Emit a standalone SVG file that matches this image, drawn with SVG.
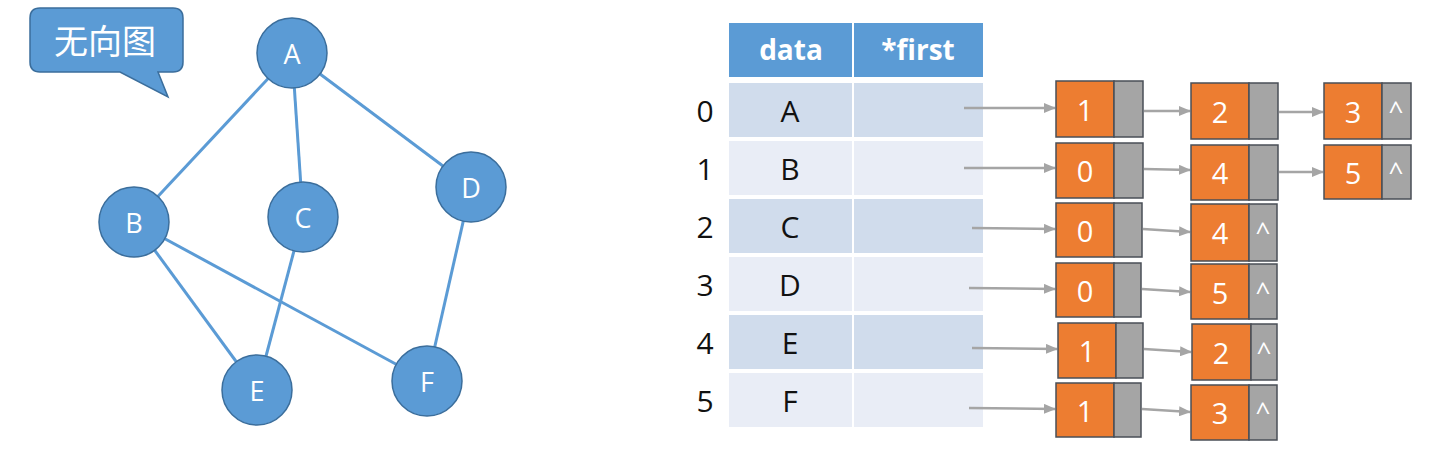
<svg xmlns="http://www.w3.org/2000/svg" width="1450" height="468" viewBox="0 0 1450 468">
<defs>
<style>
.edge{stroke:#5b9bd5;stroke-width:3;fill:none}
.gnode{fill:#5b9bd5;stroke:#3b6e9c;stroke-width:1.5}
.glabel{font-family:"Open Sans","Liberation Sans",sans-serif;font-size:27px;fill:#fff;text-anchor:middle;dominant-baseline:central}
.hdr{fill:#5b9bd5}
.rowA{fill:#d0dcec}
.rowB{fill:#e9edf6}
.htext{font-family:"Open Sans","Liberation Sans",sans-serif;font-size:28px;font-weight:bold;fill:#fff;text-anchor:middle;dominant-baseline:central}
.ttext{font-family:"Open Sans","Liberation Sans",sans-serif;font-size:30px;fill:#111;text-anchor:middle;dominant-baseline:central}
.arr{stroke:#a5a5a5;stroke-width:2.5;fill:none;marker-end:url(#ah)}
.or{fill:#ed7d31;stroke:#4a4f57;stroke-width:1.5}
.gr{fill:#a5a5a5;stroke:#4a4f57;stroke-width:1.5}
.ntext{font-family:"Open Sans","Liberation Sans",sans-serif;font-size:29px;fill:#fff;text-anchor:middle;dominant-baseline:central}
.caret{font-family:"Open Sans","Liberation Sans",sans-serif;font-size:26px;fill:#fff;text-anchor:middle}
</style>
<marker id="ah" markerUnits="userSpaceOnUse" markerWidth="12" markerHeight="10" refX="11" refY="5" orient="auto">
<path d="M0,0 L12,5 L0,10 Z" fill="#a5a5a5"/>
</marker>
</defs>
<rect width="1450" height="468" fill="#fff"/>

<g id="callout">
<path d="M40,8 H173 Q183,8 183,18 V62 Q183,72 173,72 H158 L168,97 L120,72 H40 Q30,72 30,62 V18 Q30,8 40,8 Z" fill="#5b9bd5" stroke="#3b6e9c" stroke-width="1.5"/>
<text x="105" y="39" font-family="'Noto Sans CJK SC',sans-serif" font-size="34" fill="#fff" text-anchor="middle" dominant-baseline="central">无向图</text>
</g>

<g id="graph-edges">
<line class="edge" x1="292" y1="53" x2="134" y2="222"/>
<line class="edge" x1="292" y1="53" x2="303" y2="217"/>
<line class="edge" x1="292" y1="53" x2="471" y2="187"/>
<line class="edge" x1="134" y1="222" x2="257" y2="390"/>
<line class="edge" x1="134" y1="222" x2="427" y2="381"/>
<line class="edge" x1="303" y1="217" x2="257" y2="390"/>
<line class="edge" x1="471" y1="187" x2="427" y2="381"/>
</g>

<g id="nodeA"><circle class="gnode" cx="292" cy="53" r="35"/><text class="glabel" x="292" y="53">A</text></g>
<g id="nodeB"><circle class="gnode" cx="134" cy="222" r="35"/><text class="glabel" x="134" y="222">B</text></g>
<g id="nodeC"><circle class="gnode" cx="303" cy="217" r="35"/><text class="glabel" x="303" y="217">C</text></g>
<g id="nodeD"><circle class="gnode" cx="471" cy="187" r="35"/><text class="glabel" x="471" y="187">D</text></g>
<g id="nodeE"><circle class="gnode" cx="257" cy="390" r="35"/><text class="glabel" x="257" y="390">E</text></g>
<g id="nodeF"><circle class="gnode" cx="427" cy="381" r="35"/><text class="glabel" x="427" y="381">F</text></g>

<g id="table">
<rect class="hdr" x="729" y="23" width="123" height="54"/>
<rect class="hdr" x="854" y="23" width="129" height="54"/>
<text class="htext" x="791" y="49">data</text>
<text class="htext" x="918" y="49">*first</text>

<rect class="rowA" x="729" y="83" width="123" height="54"/><rect class="rowA" x="854" y="83" width="129" height="54"/>
<rect class="rowB" x="729" y="141" width="123" height="54"/><rect class="rowB" x="854" y="141" width="129" height="54"/>
<rect class="rowA" x="729" y="199" width="123" height="54"/><rect class="rowA" x="854" y="199" width="129" height="54"/>
<rect class="rowB" x="729" y="257" width="123" height="54"/><rect class="rowB" x="854" y="257" width="129" height="54"/>
<rect class="rowA" x="729" y="315" width="123" height="54"/><rect class="rowA" x="854" y="315" width="129" height="54"/>
<rect class="rowB" x="729" y="373" width="123" height="54"/><rect class="rowB" x="854" y="373" width="129" height="54"/>

<text class="ttext" x="705" y="110">0</text><text class="ttext" x="790" y="110">A</text>
<text class="ttext" x="705" y="168">1</text><text class="ttext" x="790" y="168">B</text>
<text class="ttext" x="705" y="226">2</text><text class="ttext" x="790" y="226">C</text>
<text class="ttext" x="705" y="284">3</text><text class="ttext" x="790" y="284">D</text>
<text class="ttext" x="705" y="342">4</text><text class="ttext" x="790" y="342">E</text>
<text class="ttext" x="705" y="400">5</text><text class="ttext" x="790" y="400">F</text>
</g>

<g id="connectors">
<line class="arr" x1="964" y1="108" x2="1055" y2="108"/>
<line class="arr" x1="964" y1="168" x2="1055" y2="168"/>
<line class="arr" x1="972" y1="228" x2="1055" y2="229"/>
<line class="arr" x1="969" y1="288" x2="1055" y2="289"/>
<line class="arr" x1="972" y1="348" x2="1057" y2="349"/>
<line class="arr" x1="969" y1="408" x2="1055" y2="409"/>

<line class="arr" x1="1144" y1="111" x2="1190" y2="111"/>
<line class="arr" x1="1279" y1="112" x2="1323" y2="112"/>
<line class="arr" x1="1144" y1="169" x2="1190" y2="170"/>
<line class="arr" x1="1279" y1="172" x2="1323" y2="172"/>
<line class="arr" x1="1143" y1="229" x2="1190" y2="232"/>
<line class="arr" x1="1142" y1="289" x2="1190" y2="292"/>
<line class="arr" x1="1144" y1="349" x2="1191" y2="352"/>
<line class="arr" x1="1142" y1="409" x2="1190" y2="412"/>
</g>

<g id="r0n1"><rect class="or" x="1056" y="81" width="58" height="56"/><rect class="gr" x="1114" y="81" width="29" height="56"/><text class="ntext" x="1085" y="109">1</text></g>
<g id="r0n2"><rect class="or" x="1191" y="83" width="58" height="56"/><rect class="gr" x="1249" y="83" width="29" height="56"/><text class="ntext" x="1220" y="111">2</text></g>
<g id="r0n3"><rect class="or" x="1324" y="83" width="58" height="56"/><rect class="gr" x="1382" y="83" width="29" height="56"/><text class="ntext" x="1353" y="111">3</text><text class="caret" x="1396" y="120">^</text></g>

<g id="r1n1"><rect class="or" x="1056" y="143" width="58" height="55"/><rect class="gr" x="1114" y="143" width="29" height="55"/><text class="ntext" x="1085" y="170">0</text></g>
<g id="r1n2"><rect class="or" x="1191" y="145" width="58" height="55"/><rect class="gr" x="1249" y="145" width="29" height="55"/><text class="ntext" x="1220" y="172">4</text></g>
<g id="r1n3"><rect class="or" x="1324" y="145" width="58" height="54"/><rect class="gr" x="1382" y="145" width="29" height="54"/><text class="ntext" x="1353" y="172">5</text><text class="caret" x="1396" y="181">^</text></g>

<g id="r2n1"><rect class="or" x="1056" y="203" width="58" height="54"/><rect class="gr" x="1114" y="203" width="28" height="54"/><text class="ntext" x="1085" y="230">0</text></g>
<g id="r2n2"><rect class="or" x="1191" y="204" width="58" height="57"/><rect class="gr" x="1249" y="204" width="28" height="57"/><text class="ntext" x="1220" y="232">4</text><text class="caret" x="1263" y="241">^</text></g>

<g id="r3n1"><rect class="or" x="1056" y="263" width="58" height="54"/><rect class="gr" x="1114" y="263" width="27" height="54"/><text class="ntext" x="1085" y="290">0</text></g>
<g id="r3n2"><rect class="or" x="1191" y="264" width="58" height="55"/><rect class="gr" x="1249" y="264" width="28" height="55"/><text class="ntext" x="1220" y="292">5</text><text class="caret" x="1263" y="301">^</text></g>

<g id="r4n1"><rect class="or" x="1058" y="323" width="58" height="55"/><rect class="gr" x="1116" y="323" width="27" height="55"/><text class="ntext" x="1087" y="350">1</text></g>
<g id="r4n2"><rect class="or" x="1192" y="324" width="59" height="56"/><rect class="gr" x="1251" y="324" width="26" height="56"/><text class="ntext" x="1221" y="352">2</text><text class="caret" x="1264" y="361">^</text></g>

<g id="r5n1"><rect class="or" x="1056" y="383" width="58" height="54"/><rect class="gr" x="1114" y="383" width="27" height="54"/><text class="ntext" x="1085" y="410">1</text></g>
<g id="r5n2"><rect class="or" x="1191" y="385" width="58" height="55"/><rect class="gr" x="1249" y="385" width="28" height="55"/><text class="ntext" x="1220" y="412">3</text><text class="caret" x="1263" y="421">^</text></g>
</svg>
